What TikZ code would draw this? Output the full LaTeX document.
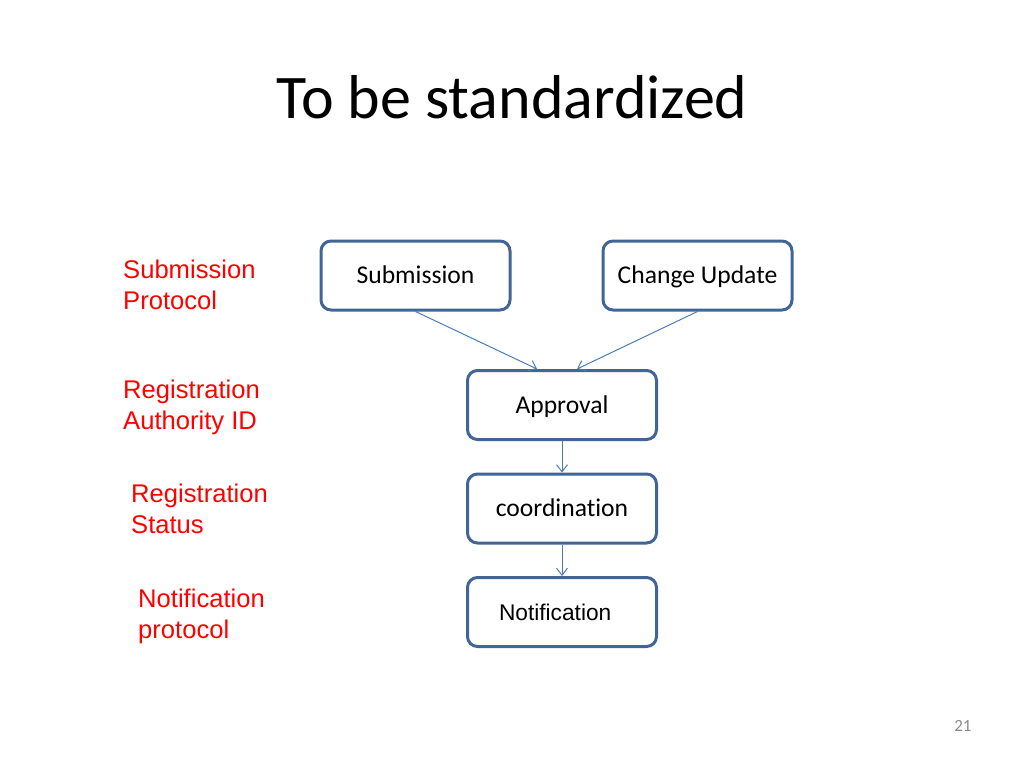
\documentclass[tikz,border=0pt]{standalone}
\usepackage{fontspec}
\setmainfont{Carlito}[Ligatures=NoCommon]
\newfontfamily\arialfont{Liberation Sans}
\usepackage{tikz}
\usetikzlibrary{positioning, arrows.meta}
\definecolor{boxblue}{RGB}{65,102,150}
\definecolor{lineblue}{RGB}{74,126,187}
\definecolor{pagegray}{RGB}{137,137,137}

\begin{document}
\begin{tikzpicture}[
    x=1pt, y=-1pt,
    node distance=31.5pt,
    stage/.style={rectangle, draw=boxblue, line width=3pt, rounded corners=10pt, minimum width=189pt, minimum height=69pt, inner sep=0pt, text height=16.5pt, text depth=0pt, font=\fontsize{25.6}{30.7}\selectfont},
    note/.style={anchor=north west, align=left, inner sep=0pt, text=red, font=\arialfont\fontsize{25.6}{31}\selectfont},
    arrow/.style={-{Straight Barb[length=7pt,width=11pt]}, draw=lineblue, line width=1pt}
]
\useasboundingbox (0,0) rectangle (1024,768);

% Title
\node[anchor=base, font=\fontsize{62}{74}\selectfont] (title) at (512,118) {To be standardized};

% Components
\node[stage] (sub) at (415.5,275.5) {Submission};
\node[stage, right=90pt of sub] (chg) {Change Update};
\node[stage] (appr) at (562,405) {Approval};
\node[stage, below=of appr] (coord) {coordination};
\node[stage, below=of coord, text width=126pt, inner xsep=31.5pt, align=left, text height=16.3pt, font=\arialfont\fontsize{22.7}{27}\selectfont] (notif) {Notification};

% Labels
\node[note] (lsub) at (123,260) {Submission\\Protocol};
\node[note] (lauth) at (123,380) {Registration\\Authority ID};
\node[note] (lstat) at (131,484) {Registration\\Status};
\node[note] (lnotif) at (138,589) {Notification\\protocol};

% Arrows
\draw[arrow] (sub.south) -- ([xshift=-25pt]appr.north);
\draw[arrow] (chg.south) -- ([xshift=15pt]appr.north);
\draw[arrow] (appr) -- (coord);
\draw[arrow] (coord) -- (notif);

% Page number
\node[anchor=base east, text=pagegray, font=\fontsize{17}{20}\selectfont] (pnum) at (975,731) {21};

\end{tikzpicture}
\end{document}
